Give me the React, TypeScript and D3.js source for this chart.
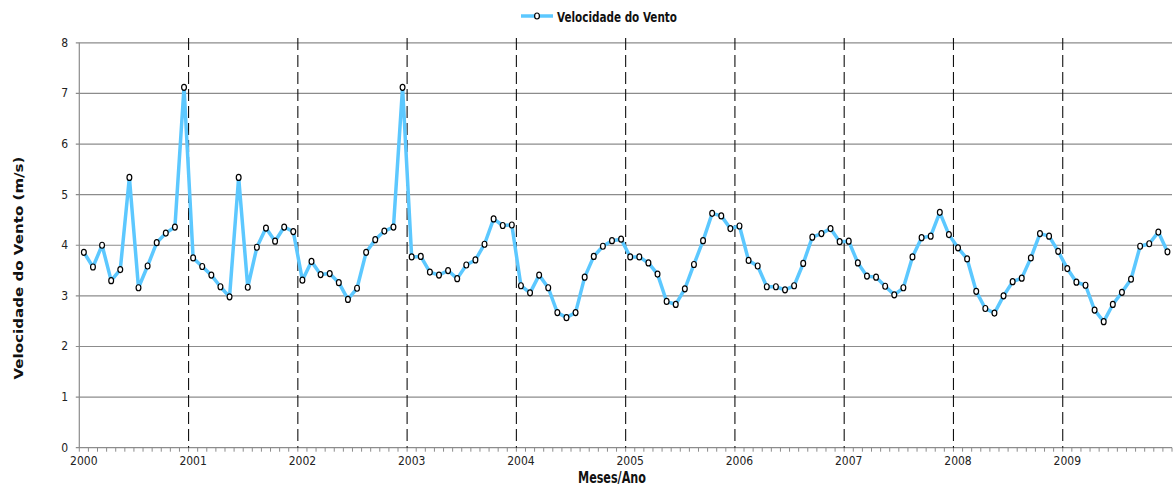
import React from "react";
import * as d3 from "d3";

const YEARS = ["2000","2001","2002","2003","2004","2005","2006","2007","2008","2009"];
const Y_TICKS = [0,1,2,3,4,5,6,7,8];
const SERIES_NAME = "Velocidade do Vento";
const Y_TITLE = "Velocidade do Vento (m/s)";
const X_TITLE = "Meses/Ano";

const V2000 = [3.86,3.57,4.00,3.30,3.52,5.34,3.16,3.59,4.05,4.24,4.36,7.12];
const V2001 = [3.75,3.58,3.41,3.18,2.98,5.34,3.17,3.96,4.34,4.08,4.36,4.27];
const V2002 = [3.31,3.68,3.42,3.44,3.26,2.93,3.15,3.86,4.11,4.28,4.36,7.12];
const V2003 = [3.77,3.78,3.47,3.41,3.50,3.34,3.61,3.71,4.02,4.52,4.39,4.40];
const V2004 = [3.20,3.06,3.41,3.16,2.67,2.57,2.67,3.37,3.78,3.98,4.09,4.12];
const V2005 = [3.77,3.77,3.65,3.43,2.89,2.83,3.14,3.62,4.09,4.63,4.58,4.33];
const V2006 = [4.38,3.70,3.59,3.18,3.18,3.12,3.20,3.64,4.16,4.23,4.33,4.07];
const V2007 = [4.08,3.65,3.39,3.37,3.19,3.02,3.16,3.77,4.15,4.18,4.65,4.21];
const V2008 = [3.95,3.73,3.09,2.75,2.66,3.00,3.28,3.35,3.75,4.23,4.18,3.88];
const V2009 = [3.54,3.27,3.21,2.72,2.49,2.83,3.07,3.33,3.98,4.03,4.26,3.87];

const VALUES = [V2000,V2001,V2002,V2003,V2004,V2005,V2006,V2007,V2008,V2009].flat();

const W = 1173, H = 500;
const LEFT = 79.3, RIGHT = 1172, TOP = 42.8, BOTTOM = 447.7;
const NARROW = "'Liberation Sans Narrow', 'DejaVu Sans Condensed', 'Open Sans', sans-serif";
const LINE_COLOR = "#5CC8FF";
const GRID = "#8C8C8C";

export default function App() {
  const n = VALUES.length;
  const x = d3.scaleLinear().domain([0, n]).range([LEFT, RIGHT]);
  const y = d3.scaleLinear().domain([0, 8]).range([BOTTOM, TOP]);
  const line = d3.line<number>().x((_, i) => x(i + 0.5)).y((d) => y(d));
  const boundaries = d3.range(0, n + 1);
  const yearStarts = YEARS.map((_, i) => i * 12);

  return (
    <svg width={W} height={H} style={{ position: "absolute", left: 0, top: 0, background: "#fff" }}>
      <rect x={0} y={0} width={W} height={H} fill="#fff" />
      {/* gridlines */}
      {Y_TICKS.map((t) => (
        <g key={t}>
          <line x1={LEFT - 3.5} x2={RIGHT} y1={y(t)} y2={y(t)} stroke={GRID} strokeWidth={1.2} />
          <text x={68} y={y(t) + 4} textAnchor="end" fontFamily={NARROW} fontSize={12} fill="#222">{t}</text>
        </g>
      ))}
      {/* y axis */}
      <line x1={LEFT} x2={LEFT} y1={TOP} y2={BOTTOM} stroke={GRID} strokeWidth={1.2} />
      {/* x ticks */}
      {boundaries.map((b) => (
        <line key={b} x1={x(b)} x2={x(b)} y1={BOTTOM} y2={BOTTOM + 4} stroke={GRID} strokeWidth={1} />
      ))}
      {/* dashed year separators */}
      {yearStarts.slice(1).map((s) => (
        <line key={s} x1={x(s)} x2={x(s)} y1={38} y2={BOTTOM} stroke="#111" strokeWidth={1.1} strokeDasharray="12,5" />
      ))}
      {/* year labels */}
      {yearStarts.map((s, i) => (
        <text key={s} x={x(s + 0.5)} y={465} textAnchor="middle" fontFamily={NARROW} fontSize={12} fill="#222">{YEARS[i]}</text>
      ))}
      {/* series */}
      <path d={line(VALUES) || ""} fill="none" stroke={LINE_COLOR} strokeWidth={3.5} strokeLinejoin="round" />
      {VALUES.map((v, i) => (
        <ellipse key={i} cx={x(i + 0.5)} cy={y(v)} rx={2.4} ry={3} fill="#fff" stroke="#000" strokeWidth={1.2} />
      ))}
      {/* legend */}
      <line x1={521} x2={553} y1={16} y2={16} stroke={LINE_COLOR} strokeWidth={3.5} />
      <ellipse cx={537} cy={16} rx={2.4} ry={3} fill="#fff" stroke="#000" strokeWidth={1.2} />
      <text x={557} y={21.5} fontFamily={NARROW} fontWeight="bold" fontSize={14.5} textLength={120} lengthAdjust="spacingAndGlyphs" fill="#111">{SERIES_NAME}</text>
      {/* axis titles */}
      <text x={578} y={483} fontFamily={NARROW} fontWeight="bold" fontSize={16} textLength={68} lengthAdjust="spacingAndGlyphs" fill="#111">{X_TITLE}</text>
      <text transform="translate(22.5,268) rotate(-90)" textAnchor="middle" fontFamily="'DejaVu Sans', Verdana, sans-serif" fontWeight="bold" fontSize={13} textLength={223} lengthAdjust="spacingAndGlyphs" fill="#111">{Y_TITLE}</text>
    </svg>
  );
}
